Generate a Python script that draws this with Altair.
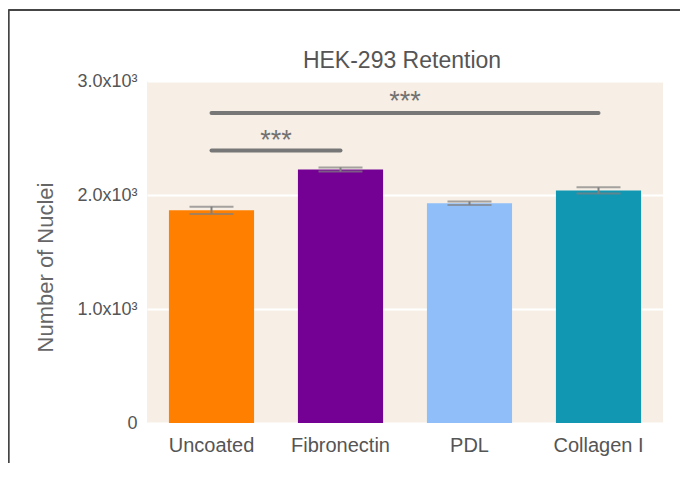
import altair as alt
import pandas as pd

categories = ["Uncoated", "Fibronectin", "PDL", "Collagen I"]
means = [1866, 2224, 1928, 2040]
errors = [32, 18, 16, 27]
bar_colors = ["#FF8000", "#740094", "#8FBEF8", "#1197B2"]

sig_start = ["Uncoated", "Uncoated"]
sig_end = ["Fibronectin", "Collagen I"]
sig_level = [2390, 2720]
sig_text_level = [2470, 2820]
sig_label = ["***", "***"]

chart_title = "HEK-293 Retention"

W, H = 516, 342
pad_inner = 0.34
step = W / len(categories)

df = pd.DataFrame({
    "cat": categories,
    "mean": means,
    "lo": [m - e for m, e in zip(means, errors)],
    "hi": [m + e for m, e in zip(means, errors)],
})

font = "Liberation Sans"

xscale = alt.Scale(domain=categories, paddingInner=pad_inner, paddingOuter=pad_inner / 2)
yscale = alt.Scale(domain=[0, 3000], nice=False)

x_enc = alt.X("cat:N", sort=categories, scale=xscale, title=None,
              axis=alt.Axis(labelAngle=0, labelFontSize=20, labelColor="#555555",
                            labelFont=font, ticks=False, domain=False, labelPadding=12,
                            grid=False))
y_axis = alt.Axis(values=[0, 1000, 2000, 3000],
                  labelExpr="datum.value == 0 ? '0' : format(datum.value/1000, '.1f') + 'x10\u00b3'",
                  labelFontSize=18, labelColor="#555555", labelFont=font,
                  ticks=False, domain=False, labelPadding=10,
                  grid=True, gridColor="#FFFFFF", gridWidth=2,
                  title="Number of Nuclei", titleFontSize=22, titleColor="#666666",
                  titleFont=font, titleFontWeight="normal",
                  titleX=-102, titleY=186, titleAngle=270, titleAlign="center",
                  titleBaseline="middle")

base = alt.Chart(df)

bars = base.mark_bar().encode(
    x=x_enc,
    y=alt.Y("mean:Q", scale=yscale, axis=y_axis),
    color=alt.Color("cat:N", scale=alt.Scale(domain=categories, range=bar_colors), legend=None),
)

err_rule = base.mark_rule(color="#808080", strokeWidth=2).encode(
    x=alt.X("cat:N", sort=categories, scale=xscale),
    y=alt.Y("lo:Q", scale=yscale),
    y2="hi:Q",
)
cap_lo = base.mark_tick(color="#808080", size=44, thickness=2).encode(
    x=alt.X("cat:N", sort=categories, scale=xscale),
    y=alt.Y("lo:Q", scale=yscale),
)
cap_hi = base.mark_tick(color="#808080", size=44, thickness=2).encode(
    x=alt.X("cat:N", sort=categories, scale=xscale),
    y=alt.Y("hi:Q", scale=yscale),
)

sig_df = pd.DataFrame({
    "start": sig_start, "end": sig_end, "y": sig_level,
    "ty": sig_text_level, "label": sig_label,
})

sig_lines = alt.Chart(sig_df).mark_rule(color="#777777", strokeWidth=4, strokeCap="round").encode(
    x=alt.X("start:N", sort=categories, scale=xscale),
    x2="end:N",
    y=alt.Y("y:Q", scale=yscale),
)

sig_texts = []
for i in range(len(sig_start)):
    d = (categories.index(sig_end[i]) - categories.index(sig_start[i])) / 2 * step
    sub = sig_df.iloc[[i]]
    sig_texts.append(
        alt.Chart(sub).mark_text(color="#727272", fontSize=27, font=font,
                                 dx=d, baseline="middle").encode(
            x=alt.X("start:N", sort=categories, scale=xscale),
            y=alt.Y("ty:Q", scale=yscale),
            text="label:N",
        )
    )

title_df = pd.DataFrame({"t": [chart_title]})
title_mark = alt.Chart(title_df).mark_text(
    fontSize=23, color="#555555", font=font, align="center", baseline="alphabetic"
).encode(x=alt.value(W / 2 - 3), y=alt.value(-13), text="t:N")

frame_top = alt.Chart(df).mark_rule(color="#444444", strokeWidth=1.5).encode(
    x=alt.value(-138.5), x2=alt.value(560), y=alt.value(-71)
)
frame_left = alt.Chart(df).mark_rule(color="#444444", strokeWidth=1.5).encode(
    x=alt.value(-138.5), y=alt.value(-71), y2=alt.value(420)
)

chart = alt.layer(
    bars, err_rule, cap_lo, cap_hi, sig_lines, *sig_texts, title_mark, frame_top, frame_left
).properties(
    width=W, height=H,
    autosize=alt.AutoSizeParams(type="none"),
    padding={"left": 139, "top": 73, "right": 17, "bottom": 40},
    background="#FFFFFF",
).configure_view(
    fill="#F7EFE5", stroke=None
)

chart.save("out.html", embed_options={"renderer": "svg", "actions": False})
